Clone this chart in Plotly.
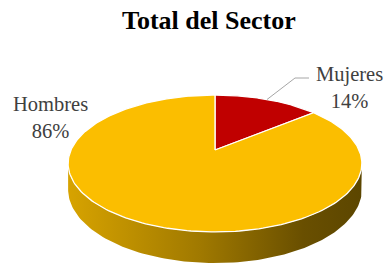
import numpy as np
import plotly.graph_objects as go

# ---- data ----
labels = ["Mujeres", "Hombres"]
values = [14, 86]
colors = ["#C00000", "#FBBE00"]
title = "Total del Sector"

# ---- layout constants (pixel space) ----
W, H = 391, 265
CX, CY = 215, 150          # projected pie centre
R, HY = 144, 65.8          # horizontal / vertical radii
K = 0.197                  # perspective factor
DEPTH = 25                 # thickness of the pie
START = 90                 # first slice starts at 12 o'clock, clockwise
LABEL_POS = {"Mujeres": (349, 87), "Hombres": (50, 117)}
FONT = "Liberation Serif, Times New Roman, serif"
TXT = "#404040"


def proj(theta_deg, drop=0.0):
    t = np.radians(theta_deg)
    u, v = np.cos(t), np.sin(t)
    s = 1.0 / (1.0 + K * v)
    return CX + R * u * s, CY - HY * v * s + drop * s


def darken(hexc, f):
    hexc = hexc.lstrip("#")
    r, g, b = (int(hexc[i:i + 2], 16) for i in (0, 2, 4))
    return "#%02x%02x%02x" % (int(r * f), int(g * f), int(b * f))


total = float(sum(values))
spans = []
a = START
for lab, val in zip(labels, values):
    sweep = 360.0 * val / total
    spans.append((lab, a - sweep, a))   # (label, end angle, start angle)
    a -= sweep

fig = go.Figure()

# ---- side walls (front, visible part) ----
asK = np.degrees(np.arcsin(K))
thL, thR = 180 + asK, 360 - asK
xmin, _ = proj(thL)
xmax, _ = proj(thR)
for (lab, a_end, a_start), col in zip(spans, colors):
    for n in range(-2, 3):
        lo = max(a_end + 360 * n, thL)
        hi = min(a_start + 360 * n, thR)
        if hi - lo <= 0.01:
            continue
        th = np.linspace(lo, hi, 120)
        xt, yt = proj(th)
        xb, yb = proj(th[::-1], DEPTH)
        xs = np.concatenate([xt, xb, xt[:1]])
        ys = np.concatenate([yt, yb, yt[:1]])
        cs = [[0, darken(col, 0.86)], [0.45, darken(col, 0.64)],
              [0.8, darken(col, 0.42)], [1, darken(col, 0.37)]]
        fig.add_trace(go.Scatter(
            x=xs, y=ys, mode="lines", fill="toself",
            line=dict(width=0, color=darken(col, 0.6)),
            fillgradient=dict(type="horizontal", colorscale=cs,
                              start=xmin, stop=xmax),
            hoverinfo="skip", showlegend=False))

# ---- top face slices ----
for (lab, a_end, a_start), col in zip(spans, colors):
    th = np.linspace(a_start, a_end, 240)
    xa, ya = proj(th)
    xs = np.concatenate([[CX], xa, [CX]])
    ys = np.concatenate([[CY], ya, [CY]])
    fig.add_trace(go.Scatter(
        x=xs, y=ys, mode="lines", fill="toself", fillcolor=col,
        line=dict(color="white", width=1.3),
        hoverinfo="skip", showlegend=False))

# ---- labels ----
for (lab, a_end, a_start), val in zip(spans, values):
    lx, ly = LABEL_POS[lab]
    pct = round(100 * val / total)
    fig.add_annotation(x=lx, y=ly, xref="x", yref="y",
                       text=f"{lab}<br>{pct}%", showarrow=False,
                       font=dict(family=FONT, size=20.5, color=TXT),
                       xanchor="center", yanchor="middle", align="center")
    if lab == "Mujeres":
        mx, my = proj((a_end + a_start) / 2)
        knee_y = ly - 9
        fig.add_trace(go.Scatter(
            x=[mx, lx - 54, lx - 40], y=[my, knee_y, knee_y], mode="lines",
            line=dict(color="#A6A6A6", width=1),
            hoverinfo="skip", showlegend=False))

fig.add_annotation(x=209, y=20, xref="x", yref="y", text=f"<b>{title}</b>",
                   showarrow=False, xanchor="center", yanchor="middle",
                   font=dict(family=FONT, size=26, color="#000000"))

fig.update_xaxes(range=[0, W], visible=False, fixedrange=True)
fig.update_yaxes(range=[H, 0], visible=False, fixedrange=True)
fig.update_layout(width=W, height=H, autosize=False,
                  margin=dict(l=0, r=0, t=0, b=0),
                  plot_bgcolor="white", paper_bgcolor="white")

fig.write_html("out.html", config={"displayModeBar": False},
               post_script="document.body.style.margin='0';"
                           "document.body.style.overflow='hidden';")
